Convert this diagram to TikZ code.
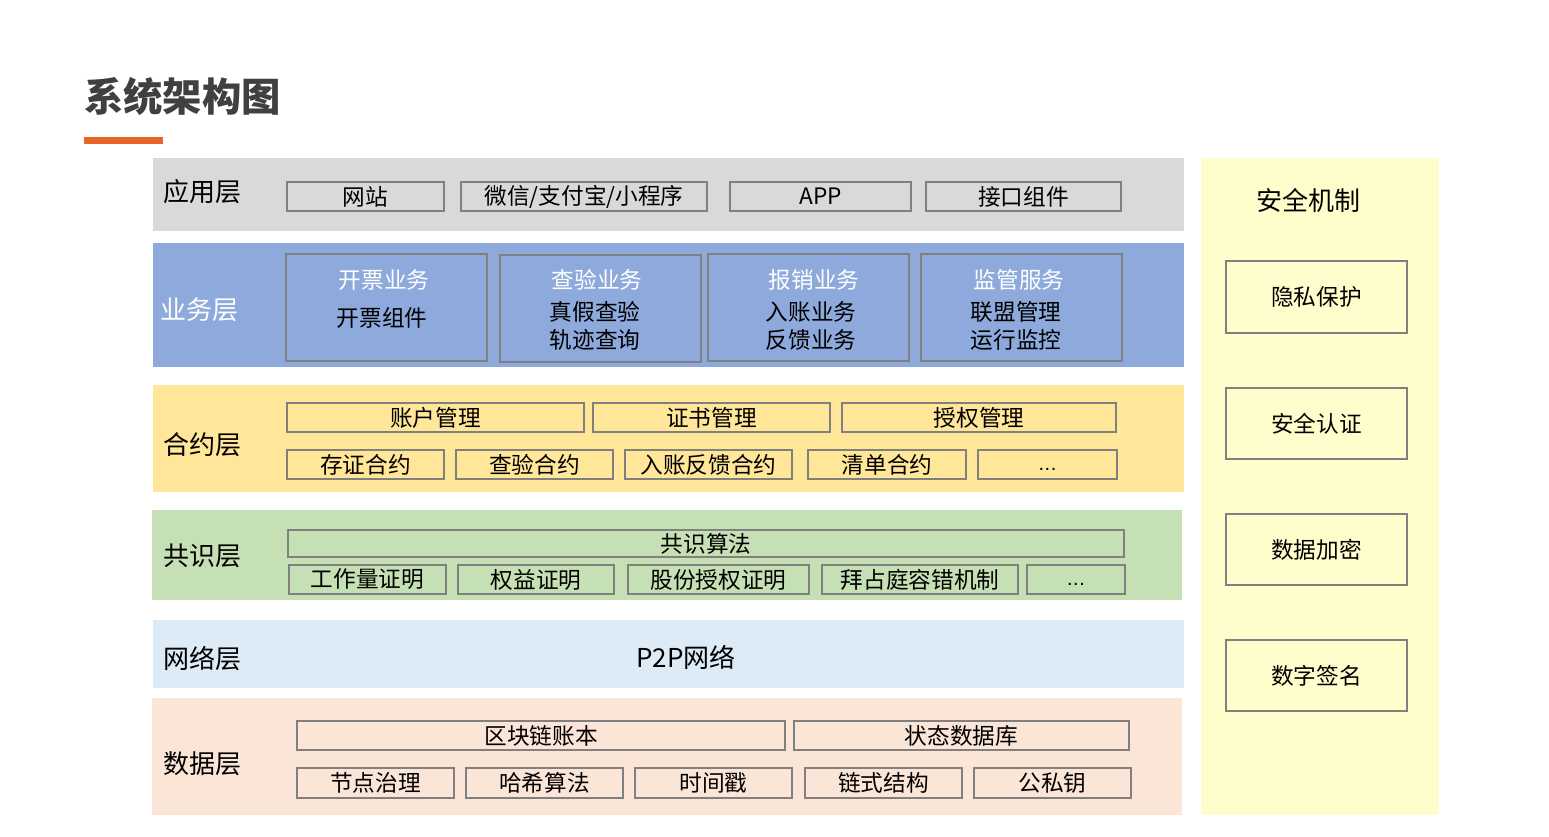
\documentclass[tikz,border=0pt]{standalone}
\usepackage{fontspec}
\setmainfont{Noto Sans CJK SC}
\newfontfamily\dotfont{Liberation Sans}
\definecolor{appgray}{HTML}{D9D9D9}
\definecolor{bizblue}{HTML}{8EA9DB}
\definecolor{conyellow}{HTML}{FFE699}
\definecolor{consgreen}{HTML}{C5E0B4}
\definecolor{netblue}{HTML}{DDEBF7}
\definecolor{datapink}{HTML}{FBE5D6}
\definecolor{secyellow}{HTML}{FFFDCC}
\definecolor{boxgray}{HTML}{808080}
\definecolor{titlegray}{HTML}{404040}
\definecolor{accent}{HTML}{E8652A}
\tikzset{
  bx/.style={draw=boxgray, line width=1.5pt, inner sep=0pt, outer sep=0pt,
             font=\fontsize{17}{20}\selectfont, text=black},
  layerlbl/.style={anchor=west, inner sep=0pt, font=\fontsize{19.5}{23}\selectfont, text=black},
  btitle/.style={inner sep=0pt, font=\fontsize{17}{20}\selectfont, text=white},
  bline/.style={inner sep=0pt, font=\fontsize{17}{20}\selectfont, text=black},
}
\newcommand\mybox[6]{\node[bx, minimum width={(#4-#2)*0.75pt}, minimum height={(#5-#3)*0.75pt}] (#1) at ({(#2+#4)/2},{(#3+#5)/2}) {#6};}
\newcommand\mydots{\raisebox{0pt}[12pt][3pt]{\dotfont\fontsize{15}{18}\selectfont .\kern0.5pt.\kern0.5pt.}}
\begin{document}
\begin{tikzpicture}[x=0.75pt,y=-0.75pt]
\useasboundingbox (0,0) rectangle (1549,837);
\fill[white] (0,0) rectangle (1549,837);
% title
\node[anchor=west, inner sep=0pt, text=titlegray, font=\fontsize{29.5}{34}\selectfont\bfseries] (title) at (84,97) {系统架构图};
\fill[accent] (84,137) rectangle (163,144);
% bands
\fill[appgray] (153,158) rectangle (1184,231);
\fill[bizblue] (153,243) rectangle (1184,367);
\fill[conyellow] (153,385) rectangle (1184,492);
\fill[consgreen] (152,510) rectangle (1182,600);
\fill[netblue] (153,620) rectangle (1184,688);
\fill[datapink] (152,698) rectangle (1182,815);
\fill[secyellow] (1201,158) rectangle (1439,815);
% layer labels
\node[layerlbl] (lapp) at (163,192) {应用层};
\node[layerlbl, text=white] (lbiz) at (160,310) {业务层};
\node[layerlbl] (lcon) at (163,445) {合约层};
\node[layerlbl] (lcons) at (163,556) {共识层};
\node[layerlbl] (lnet) at (163,659) {网络层};
\node[layerlbl] (ldata) at (163,764) {数据层};
% application
\mybox{a1}{287}{182}{444}{211}{网站}
\mybox{a2}{461}{182}{707}{211}{微信/支付宝/小程序}
\mybox{a3}{730}{182}{911}{211}{APP}
\mybox{a4}{926}{182}{1121}{211}{接口组件}
% business
\mybox{b1}{286}{254}{487}{361}{}
\mybox{b2}{500}{255}{701}{362}{}
\mybox{b3}{708}{254}{909}{361}{}
\mybox{b4}{921}{254}{1122}{361}{}
\node[btitle] (b1t) at (384,280) {开票业务};
\node[bline] (b1a) at (382,318) {开票组件};
\node[btitle] (b2t) at (597,280) {查验业务};
\node[bline] (b2a) at (595,312) {真假查验};
\node[bline] (b2b) at (595,340) {轨迹查询};
\node[btitle] (b3t) at (814,280) {报销业务};
\node[bline] (b3a) at (811,312) {入账业务};
\node[bline] (b3b) at (811,340) {反馈业务};
\node[btitle] (b4t) at (1019,280) {监管服务};
\node[bline] (b4a) at (1016,312) {联盟管理};
\node[bline] (b4b) at (1016,340) {运行监控};
% contract
\mybox{c1}{287}{403}{584}{432}{账户管理}
\mybox{c2}{593}{403}{830}{432}{证书管理}
\mybox{c3}{842}{403}{1116}{432}{授权管理}
\mybox{c4}{287}{450}{444}{479}{存证合约}
\mybox{c5}{456}{450}{613}{479}{查验合约}
\mybox{c6}{625}{450}{792}{479}{入账反馈合约}
\mybox{c7}{808}{450}{966}{479}{清单合约}
\mybox{c8}{978}{450}{1117}{479}{\mydots}
% consensus
\mybox{s0}{288}{530}{1124}{557}{共识算法}
\mybox{s1}{289}{565}{446}{594}{工作量证明}
\mybox{s2}{458}{565}{614}{594}{权益证明}
\mybox{s3}{628}{565}{809}{594}{股份授权证明}
\mybox{s4}{822}{565}{1018}{594}{拜占庭容错机制}
\mybox{s5}{1027}{565}{1125}{594}{\mydots}
% network
\node[inner sep=0pt, font=\fontsize{19.5}{23}\selectfont] (p2p) at (686,657) {P2P网络};
% data
\mybox{d1}{297}{721}{785}{750}{区块链账本}
\mybox{d2}{794}{721}{1129}{750}{状态数据库}
\mybox{d3}{297}{768}{454}{798}{节点治理}
\mybox{d4}{466}{768}{623}{798}{哈希算法}
\mybox{d5}{635}{768}{792}{798}{时间戳}
\mybox{d6}{805}{768}{962}{798}{链式结构}
\mybox{d7}{974}{768}{1131}{798}{公私钥}
% security
\node[inner sep=0pt, font=\fontsize{19.5}{23}\selectfont] (sect) at (1308,200) {安全机制};
\mybox{e1}{1226}{261}{1407}{333}{隐私保护}
\mybox{e2}{1226}{388}{1407}{459}{安全认证}
\mybox{e3}{1226}{514}{1407}{585}{数据加密}
\mybox{e4}{1226}{640}{1407}{711}{数字签名}
\end{tikzpicture}
\end{document}
